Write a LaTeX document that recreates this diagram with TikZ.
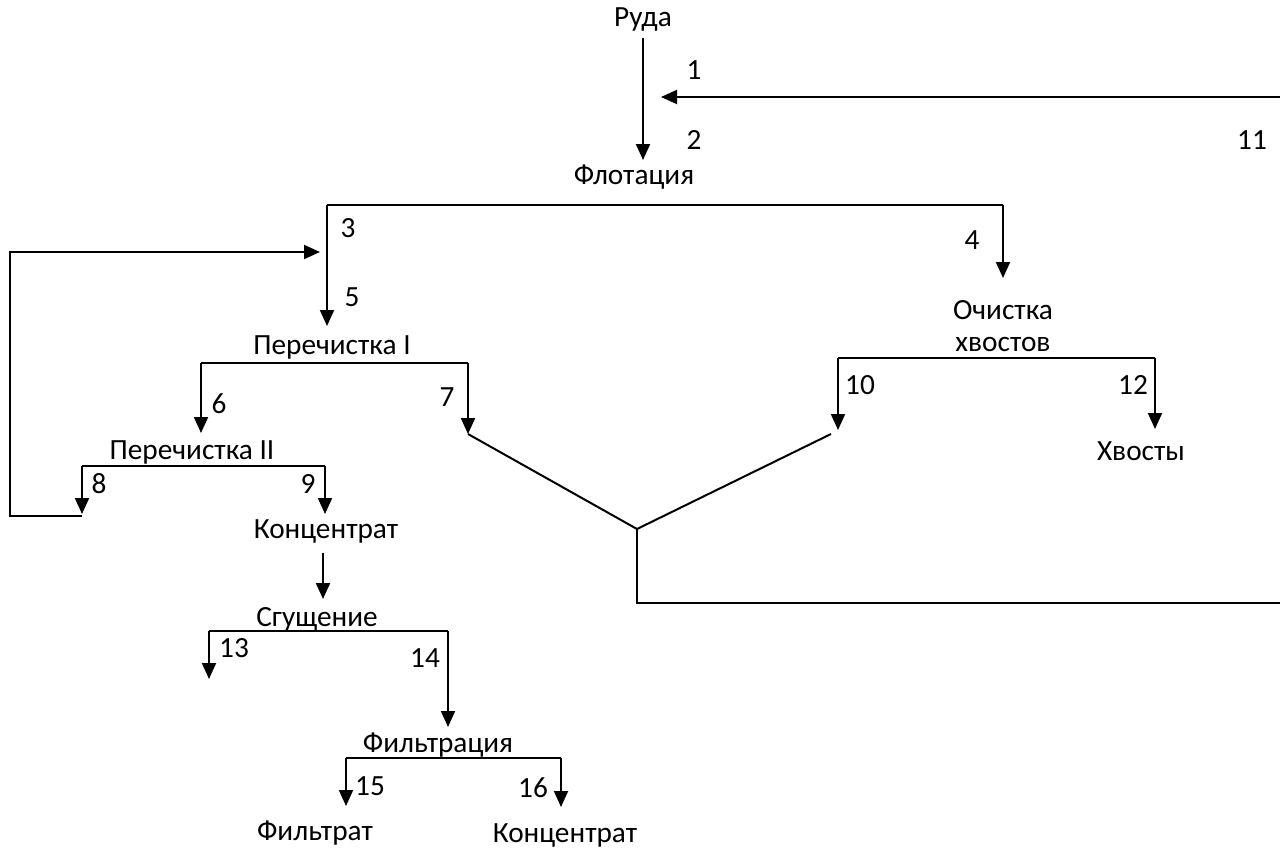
\documentclass[tikz,border=0pt]{standalone}
\usepackage{fontspec}
\setmainfont{Carlito}
\usetikzlibrary{arrows.meta}
\tikzset{
  lbl/.style={inner sep=0pt, font=\fontsize{29.3}{32}\selectfont},
  num/.style={inner sep=0pt, font=\fontsize{29.3}{32}\selectfont},
  flow/.style={line width=2pt, -{Triangle[length=16pt,width=14pt]}},
  ln/.style={line width=2pt}
}
\begin{document}
\begin{tikzpicture}[x=1pt,y=-1pt]
\useasboundingbox (0,0) rectangle (1280,849);
% text nodes
\node[lbl] (ruda) at (643,20) {Руда};
\node[lbl] (flot) at (634,177) {Флотация};
\node[lbl] (per1) at (332,347) {Перечистка I};
\node[lbl] (per2) at (192,452) {Перечистка II};
\node[lbl] (konc1) at (326,531) {Концентрат};
\node[lbl] (sgush) at (317,619) {Сгущение};
\node[lbl] (filtr) at (438,745) {Фильтрация};
\node[lbl] (filtrat) at (315,833) {Фильтрат};
\node[lbl] (konc2) at (565,835) {Концентрат};
\node[lbl, align=center] (ochist) at (1003,326) {Очистка\\хвостов};
\node[lbl] (hvost) at (1141,451) {Хвосты};
% numbers
\node[num] (n1) at (694,70) {1};
\node[num] (n2) at (694,140) {2};
\node[num] (n11) at (1252,140) {11};
\node[num] (n3) at (348,228) {3};
\node[num] (n4) at (972,240) {4};
\node[num] (n5) at (352,297) {5};
\node[num] (n6) at (219,404) {6};
\node[num] (n7) at (447,397) {7};
\node[num] (n8) at (99,484) {8};
\node[num] (n9) at (308,484) {9};
\node[num] (n10) at (860,385) {10};
\node[num] (n12) at (1133,385) {12};
\node[num] (n13) at (234,648) {13};
\node[num] (n14) at (425,658) {14};
\node[num] (n15) at (370,786) {15};
\node[num] (n16) at (533,788) {16};
% coordinates
\coordinate (a0) at (643,38);
\coordinate (a1) at (643,160);
\coordinate (r0) at (1280,97);
\coordinate (r1) at (661,97);
\coordinate (f0) at (327,205);
\coordinate (f1) at (1003,205);
\coordinate (p1top) at (327,326);
\coordinate (ochtop) at (1003,278);
\coordinate (fb0) at (82,516);
\coordinate (fb1) at (10,516);
\coordinate (fb2) at (10,252);
\coordinate (fb3) at (320,252);
\coordinate (q0) at (201,363);
\coordinate (q1) at (468,363);
\coordinate (q0e) at (201,433);
\coordinate (q1e) at (468,434);
\coordinate (s0) at (82,466);
\coordinate (s1) at (325,466);
\coordinate (s0e) at (82,514);
\coordinate (s1e) at (325,514);
\coordinate (k0) at (323,553);
\coordinate (k1) at (323,599);
\coordinate (g0) at (209,631);
\coordinate (g1) at (448,631);
\coordinate (g0e) at (209,679);
\coordinate (g1e) at (448,727);
\coordinate (h0) at (346,758);
\coordinate (h1) at (561,758);
\coordinate (h0e) at (346,806);
\coordinate (h1e) at (561,807);
\coordinate (o0) at (838,358);
\coordinate (o1) at (1155,358);
\coordinate (o0e) at (838,430);
\coordinate (o1e) at (1155,429);
\coordinate (d1) at (831,434);
\coordinate (jn) at (637,529);
\coordinate (jb) at (637,603);
\coordinate (je) at (1280,603);
% connectors
\draw[flow] (a0) -- (a1);
\draw[flow] (r0) -- (r1);
\draw[ln] (f0) -- (f1);
\draw[flow] (f0) -- (p1top);
\draw[flow] (f1) -- (ochtop);
\draw[flow] (fb0) -- (fb1) -- (fb2) -- (fb3);
\draw[ln] (q0) -- (q1);
\draw[flow] (q0) -- (q0e);
\draw[flow] (q1) -- (q1e);
\draw[ln] (s0) -- (s1);
\draw[flow] (s0) -- (s0e);
\draw[flow] (s1) -- (s1e);
\draw[flow] (k0) -- (k1);
\draw[ln] (g0) -- (g1);
\draw[flow] (g0) -- (g0e);
\draw[flow] (g1) -- (g1e);
\draw[ln] (h0) -- (h1);
\draw[flow] (h0) -- (h0e);
\draw[flow] (h1) -- (h1e);
\draw[ln] (o0) -- (o1);
\draw[flow] (o0) -- (o0e);
\draw[flow] (o1) -- (o1e);
\draw[ln] (q1e) -- (jn) -- (d1);
\draw[ln] (jn) -- (jb) -- (je);
\end{tikzpicture}
\end{document}
